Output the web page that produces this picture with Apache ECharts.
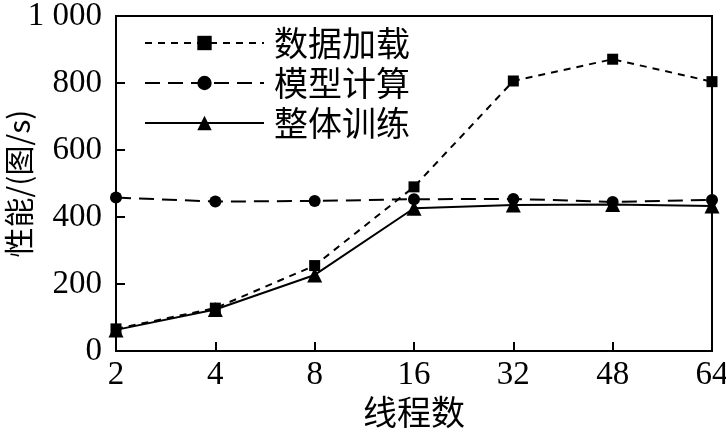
<!DOCTYPE html>
<html>
<head>
<meta charset="utf-8">
<script src="https://cdn.jsdelivr.net/npm/echarts@6/dist/echarts.min.js"></script>
<style>
  html, body { margin: 0; padding: 0; background: #fff; }
  #chart { width: 726px; height: 434px; }
</style>
</head>
<body>
<div id="chart"></div>
<script>
// categories and values
var threads = ['2', '4', '8', '16', '32', '48', '64'];
var dataLoad = [66, 128, 255, 490, 806, 871, 804];
var modelCalc = [458, 446, 448, 453, 454, 445, 451];
var training = [63, 124, 227, 426, 436, 437, 433];
var yTicks = { min: 0, max: 1000, interval: 200 };

var serif = '"Liberation Serif", "Times New Roman", "Noto Sans CJK SC", serif';
var cjk = '"Noto Sans CJK SC", "Liberation Serif", serif';

var chart = echarts.init(document.getElementById('chart'));

function makeSeries(name, data, symbol, size, lineType) {
  return {
    name: name,
    type: 'line',
    data: data,
    symbol: symbol,
    symbolSize: size,
    itemStyle: { color: '#000' },
    lineStyle: { color: '#000', width: 2, type: lineType },
    animation: false
  };
}

chart.setOption({
  backgroundColor: '#fff',
  grid: {
    left: 116, right: 14, top: 16, bottom: 83,
    containLabel: false, outerBoundsMode: 'none',
    show: true, borderColor: '#000', borderWidth: 2
  },
  legend: {
    left: 144,
    top: 26,
    padding: 0,
    orient: 'vertical',
    itemWidth: 119,
    itemHeight: 18,
    itemGap: 6,
    textStyle: { fontFamily: cjk, fontSize: 34, lineHeight: 34, color: '#000', padding: [0, 0, 0, 5] },
    data: ['数据加载', '模型计算', '整体训练']
  },
  xAxis: {
    type: 'category',
    data: threads,
    boundaryGap: false,
    name: '线程数',
    nameLocation: 'middle',
    nameGap: 44,
    nameMoveOverlap: false,
    nameTextStyle: { fontFamily: cjk, fontSize: 34, color: '#000' },
    axisLine: { lineStyle: { color: '#000', width: 2 } },
    axisTick: { inside: true, length: 9, lineStyle: { color: '#000', width: 2 } },
    axisLabel: { fontFamily: serif, fontSize: 33, color: '#000', margin: 8 },
    splitLine: { show: false }
  },
  yAxis: {
    type: 'value',
    min: yTicks.min,
    max: yTicks.max,
    interval: yTicks.interval,
    name: '性能/(图/s)',
    nameLocation: 'middle',
    nameGap: 82,
    nameMoveOverlap: false,
    nameTextStyle: { fontFamily: cjk, fontSize: 30, color: '#000' },
    axisLine: { show: true, lineStyle: { color: '#000', width: 2 } },
    axisTick: { show: true, inside: true, length: 9, lineStyle: { color: '#000', width: 2 } },
    axisLabel: {
      fontFamily: serif, fontSize: 33, color: '#000', margin: 14,
      formatter: function (v) { return v >= 1000 ? '1 000' : String(v); }
    },
    splitLine: { show: false }
  },
  series: [
    makeSeries('数据加载', dataLoad, 'rect', 11, [7, 6]),
    makeSeries('模型计算', modelCalc, 'circle', 12, [15, 8]),
    makeSeries('整体训练', training, 'triangle', 15, 'solid')
  ]
});
</script>
</body>
</html>
